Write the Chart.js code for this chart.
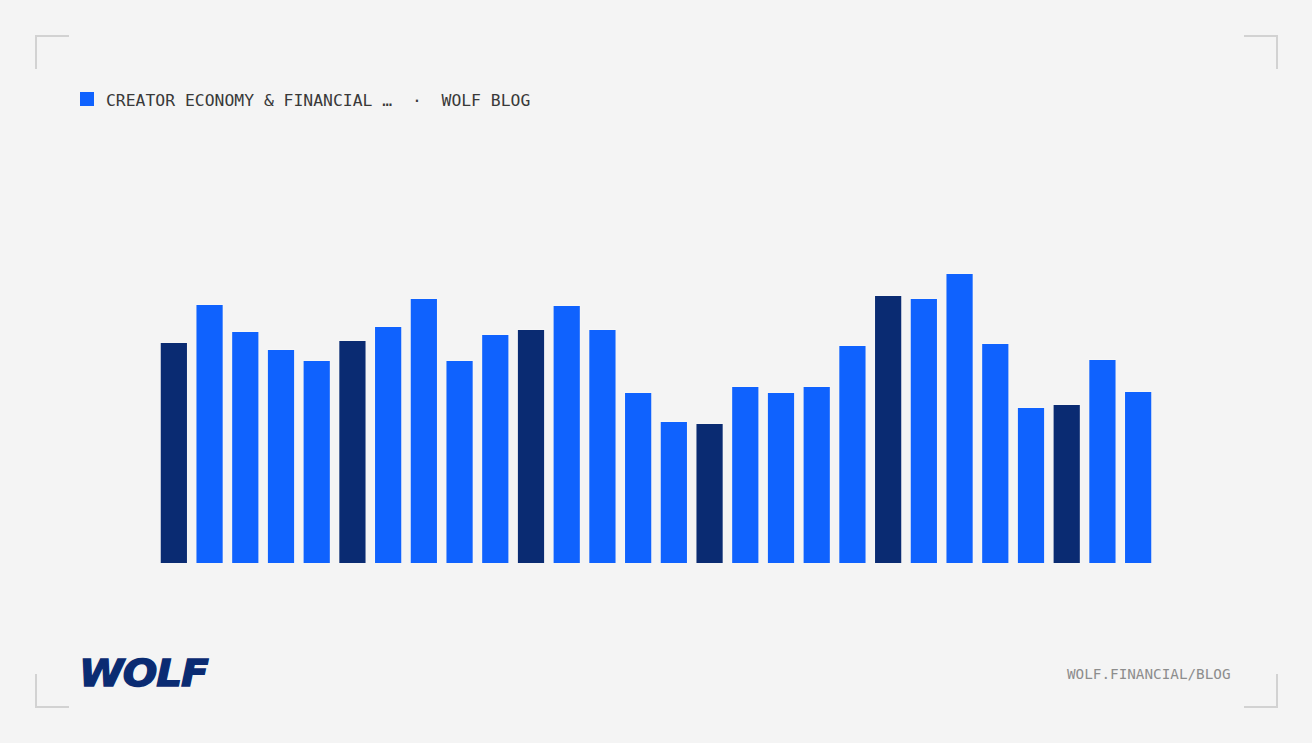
<!DOCTYPE html>
<html>
<head>
<meta charset="utf-8">
<script src="https://cdn.jsdelivr.net/npm/chart.js@4/dist/chart.umd.min.js"></script>
<style>
  html, body { margin: 0; padding: 0; }
  body { width: 1312px; height: 743px; background: #f4f4f4; position: relative; overflow: hidden; }
  .corner { position: absolute; width: 32px; height: 32px; border-color: #d2d2d2; border-style: solid; border-width: 0; }
  .tl { left: 35px; top: 35px; border-left-width: 2px; border-top-width: 2px; }
  .tr { left: 1244px; top: 35px; border-right-width: 2px; border-top-width: 2px; }
  .bl { left: 35px; top: 674px; border-left-width: 2px; border-bottom-width: 2px; }
  .br { left: 1244px; top: 674px; border-right-width: 2px; border-bottom-width: 2px; }
  .legend { position: absolute; left: 80px; top: 92px; height: 14px; }
  .legend .box { position: absolute; left: 0; top: 0; width: 14px; height: 14px; background: #0f62fe; }
  .legend .txt { position: absolute; left: 26px; top: 0.8px; white-space: pre; font-family: "DejaVu Sans Mono", monospace; font-size: 16.4px; line-height: 16.4px; color: #393939; }
  .footer { position: absolute; left: 1067px; top: 667px; white-space: pre; font-family: "DejaVu Sans Mono", monospace; font-size: 14.3px; line-height: 14.3px; color: #8d8d8d; }
  .logo { position: absolute; left: 79px; top: 654px; font-family: "DejaVu Sans", sans-serif; font-weight: bold; font-style: italic; font-size: 38px; line-height: 38px; color: #0a2b72; letter-spacing: -1px; -webkit-text-stroke: 1.3px #0a2b72; transform: scaleX(1.07); transform-origin: left top; }
  #wrap { position: absolute; left: 156px; top: 262px; width: 1000px; height: 301px; }
</style>
</head>
<body>
<div class="corner tl"></div>
<div class="corner tr"></div>
<div class="corner bl"></div>
<div class="corner br"></div>

<div class="legend"><div class="box"></div><div class="txt">CREATOR ECONOMY &amp; FINANCIAL …  ·  WOLF BLOG</div></div>

<div id="wrap"><canvas id="canvas-bar-chart"></canvas></div>

<div class="logo">WOLF</div>
<div class="footer">WOLF.FINANCIAL/BLOG</div>

<script>
// bar values (no axis shown, arbitrary units)
const labels = ['1', '2', '3', '4', '5', '6', '7', '8', '9', '10', '11', '12', '13', '14',
  '15', '16', '17', '18', '19', '20', '21', '22', '23', '24', '25', '26', '27', '28'];
const values = [221, 259, 232, 214, 203, 223, 237, 265, 203, 229, 234, 258, 234, 171,
  142, 140, 177, 171, 177, 218, 268, 265, 290, 220, 156, 159, 204, 172];
// every fifth bar is drawn in the dark shade
const darkBars = [0, 5, 10, 15, 20, 25];

const blue = '#0f62fe';
const navy = '#0a2b72';

const ctx = document.getElementById('canvas-bar-chart');
const chart = new Chart(ctx, {
  type: 'bar',
  data: {
    labels: labels,
    datasets: [{
      label: 'Creator economy & financial',
      data: values,
      backgroundColor: values.map((v, i) => (darkBars.includes(i) ? navy : blue)),
      borderColor: 'rgba(255,255,255,0.22)',
      borderWidth: 1,
      borderSkipped: 'bottom',
      barPercentage: 0.79,
      categoryPercentage: 1,
    }],
  },
  options: {
    responsive: true,
    maintainAspectRatio: false,
    animation: false,
    layout: { padding: 0 },
    plugins: {
      legend: { display: false },
      tooltip: { enabled: false },
    },
    scales: {
      x: { display: false },
      y: { display: false, min: 0, max: 301 },
    },
  },
});
</script>
</body>
</html>
